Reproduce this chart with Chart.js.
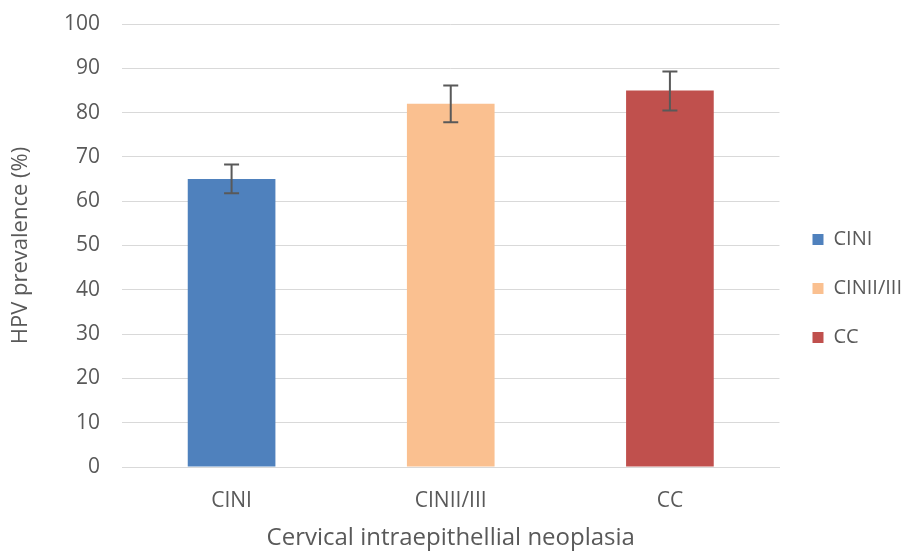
<!DOCTYPE html>
<html>
<head>
<meta charset="utf-8">
<script src="https://cdn.jsdelivr.net/npm/chart.js@4.4.1/dist/chart.umd.min.js"></script>
<style>
  html, body { margin: 0; padding: 0; background: #fff; }
  #wrap { width: 921px; height: 553px; position: relative; }
</style>
</head>
<body>
<div id="wrap"><canvas id="hpvChart"></canvas></div>
<script>
// values
const categories = ['CINI', 'CINII/III', 'CC'];
const prevalence = [65, 82, 85];
const errLow = [61.8, 77.8, 80.5];
const errHigh = [68.3, 86.1, 89.3];
const barColors = ['#4F81BD', '#FAC090', '#C0504D'];
const yTicks = [0, 10, 20, 30, 40, 50, 60, 70, 80, 90, 100];

const textGray = '#595959';
const fontFamily = "'Open Sans', 'Liberation Sans', sans-serif";

// simple error bar drawer
const errorBars = {
    id: 'errorBars',
    afterDatasetsDraw(chart) {
        const ctx = chart.ctx;
        const meta = chart.getDatasetMeta(0);
        const yScale = chart.scales.y;
        ctx.save();
        ctx.strokeStyle = '#595959';
        ctx.lineWidth = 2;
        meta.data.forEach((bar, i) => {
            const x = bar.x;
            const top = yScale.getPixelForValue(errHigh[i]);
            const bottom = yScale.getPixelForValue(errLow[i]);
            ctx.beginPath();
            ctx.moveTo(x, top);
            ctx.lineTo(x, bottom);
            ctx.moveTo(x - 7.5, top);
            ctx.lineTo(x + 7.5, top);
            ctx.moveTo(x - 7.5, bottom);
            ctx.lineTo(x + 7.5, bottom);
            ctx.stroke();
        });
        ctx.restore();
    }
};

const ctx = document.getElementById('hpvChart').getContext('2d');

new Chart(ctx, {
    type: 'bar',
    data: {
        labels: categories,
        datasets: [{
            label: 'HPV prevalence',
            data: prevalence,
            backgroundColor: barColors,
            borderWidth: 0,
            categoryPercentage: 1.0,
            barPercentage: 0.4
        }]
    },
    options: {
        responsive: true,
        maintainAspectRatio: false,
        animation: false,
        layout: {
            padding: { top: 24, right: 9, bottom: 0, left: 0 }
        },
        plugins: {
            tooltip: { enabled: false },
            legend: {
                position: 'right',
                labels: {
                    color: textGray,
                    font: { family: fontFamily, size: 20 },
                    boxWidth: 11,
                    boxHeight: 11,
                    padding: 29,
                    generateLabels: function (chart) {
                        return categories.map((c, i) => ({
                            text: c,
                            fillStyle: barColors[i],
                            strokeStyle: barColors[i],
                            lineWidth: 0,
                            hidden: false,
                            index: i,
                            fontColor: textGray
                        }));
                    }
                },
                onClick: null
            }
        },
        scales: {
            y: {
                min: 0,
                max: 100,
                afterBuildTicks: function (axis) {
                    axis.ticks = yTicks.map(v => ({ value: v }));
                },
                afterFit: function (axis) {
                    axis.width = 122;
                    axis.paddingTop = 12;
                    axis.paddingBottom = 12;
                },
                grid: {
                    color: '#D9D9D9',
                    lineWidth: 1,
                    drawTicks: false
                },
                border: { display: false },
                ticks: {
                    color: textGray,
                    font: { family: fontFamily, size: 21 },
                    padding: 22
                },
                title: {
                    display: true,
                    text: 'HPV prevalence (%)',
                    color: textGray,
                    font: { family: fontFamily, size: 22 },
                    padding: { top: 8, bottom: 0 }
                }
            },
            // empty spacer between plot and legend
            gap: {
                position: 'right',
                display: true,
                grid: { display: false },
                border: { display: false },
                ticks: { display: false },
                afterFit: function (axis) {
                    axis.width = 4;
                }
            },
            x: {
                afterFit: function (axis) {
                    axis.height = 86;
                },
                grid: { display: false, drawTicks: false },
                border: { color: '#D9D9D9', width: 1 },
                ticks: {
                    color: textGray,
                    font: { family: fontFamily, size: 21 },
                    padding: 21
                },
                title: {
                    display: true,
                    text: 'Cervical intraepithellial neoplasia',
                    color: textGray,
                    font: { family: fontFamily, size: 24 },
                    padding: { top: 0, bottom: 0 }
                }
            }
        }
    },
    plugins: [errorBars]
});
</script>
</body>
</html>
